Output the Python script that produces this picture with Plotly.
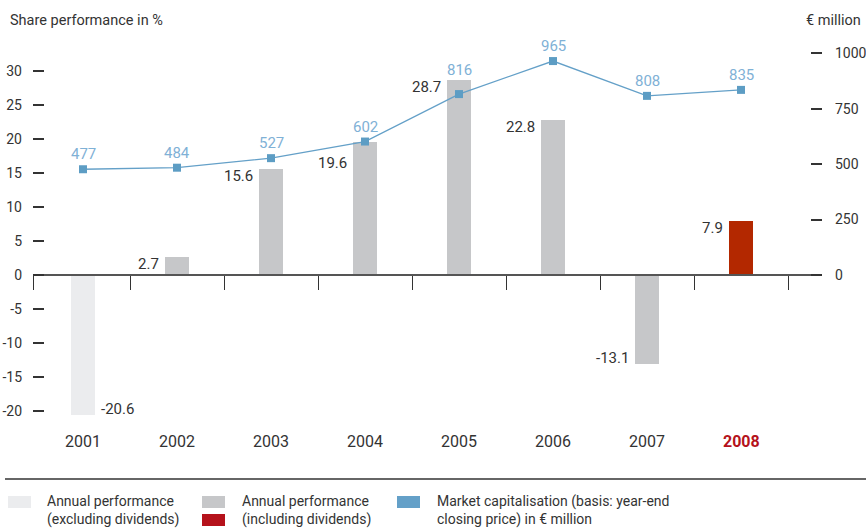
import plotly.graph_objects as go

# --- data -------------------------------------------------------------
years = ["2001", "2002", "2003", "2004", "2005", "2006", "2007", "2008"]
share_performance = [-20.6, 2.7, 15.6, 19.6, 28.7, 22.8, -13.1, 7.9]
market_cap = [477, 484, 527, 602, 816, 965, 808, 835]

left_ticks = [-20, -15, -10, -5, 0, 5, 10, 15, 20, 25, 30]
right_ticks = [0, 250, 500, 750, 1000]

# --- styling ----------------------------------------------------------
FONT = "Roboto"
TEXT = "#333333"
C_EXCL = "#ebecee"
C_INCL = "#c6c7c9"
C_HIGHLIGHT_BAR = "#b32800"
C_HIGHLIGHT = "#b5121b"
C_LINE = "#64a0c8"
C_MARKER = "#5d9dc4"
C_CAP_TEXT = "#7fb1d6"

bar_colors = [C_EXCL] + [C_INCL] * (len(years) - 2) + [C_HIGHLIGHT_BAR]

W, H = 866, 529
ML, MR, MT, MB = 33, 44, 40, 109
PW, PH = W - ML - MR, H - MT - MB

# left axis: pixels per percent point; right axis: pixels per € million
px_left = 6.81
px_right = 0.2217
zero_px = 275  # vertical pixel of the common zero line
y_top = (zero_px - MT) / px_left
y_bot = -(MT + PH - zero_px) / px_left
k = px_left / px_right

# horizontal scale: category width in pixels, first category starts 3 px in
cat_px = 94.0
first_edge = 3
x_range = [-0.5 - first_edge / cat_px, -0.5 + (PW - first_edge) / cat_px]


def px_x(p):
    return (p - ML) / PW


def px_y(p):
    return (MT + PH - p) / PH


x = list(range(len(years)))

fig = go.Figure()

fig.add_trace(go.Bar(
    x=x, y=share_performance, width=0.245,
    marker=dict(color=bar_colors, line=dict(width=0)),
    yaxis="y", hoverinfo="skip", showlegend=False,
))

fig.add_trace(go.Scatter(
    x=x, y=market_cap, yaxis="y2", mode="lines+markers",
    line=dict(color=C_LINE, width=1.3),
    marker=dict(symbol="square", size=8, color=C_MARKER),
    hoverinfo="skip", showlegend=False,
))

annotations = []

# share performance labels, beside each bar
for i, v in enumerate(share_performance):
    right_side = i == 0
    if v >= 0:
        shift = -21 if years[i] == "2004" else -7
    else:
        shift = 6
    annotations.append(dict(
        x=i + (0.17 if right_side else -0.17), y=v, xref="x", yref="y",
        text=f"{v:.1f}", showarrow=False,
        xanchor="left" if right_side else "right", yanchor="middle",
        yshift=shift, font=dict(family=FONT, size=15, color=TEXT),
    ))

# market capitalisation labels above the markers
for i, v in enumerate(market_cap):
    shift = 24 if years[i] == "2005" else 15
    annotations.append(dict(
        x=i, y=v, xref="x", yref="y2", text=str(v), showarrow=False,
        xanchor="center", yanchor="middle", yshift=shift,
        font=dict(family=FONT, size=15, color=C_CAP_TEXT),
    ))

# year labels
for i, yr in enumerate(years):
    last = i == len(years) - 1
    annotations.append(dict(
        x=i, y=px_y(441), xref="x", yref="paper",
        text=f"<b>{yr}</b>" if last else yr, showarrow=False,
        xanchor="center", yanchor="middle",
        font=dict(family=FONT, size=16, color=C_HIGHLIGHT if last else TEXT),
    ))

# axis titles
annotations.append(dict(
    x=px_x(8), y=px_y(20), xref="paper", yref="paper",
    text="Share performance in %", showarrow=False,
    xanchor="left", yanchor="middle",
    font=dict(family=FONT, size=14.5, color=TEXT),
))
annotations.append(dict(
    x=px_x(863), y=px_y(20), xref="paper", yref="paper",
    text="€ million", showarrow=False,
    xanchor="right", yanchor="middle",
    font=dict(family=FONT, size=14.5, color=TEXT),
))

# legend
legend_items = [
    (45, "Annual performance<br>(excluding dividends)"),
    (240, "Annual performance<br>(including dividends)"),
    (435, "Market capitalisation (basis: year-end<br>closing price) in € million"),
]
for lx, txt in legend_items:
    annotations.append(dict(
        x=px_x(lx), y=px_y(491), xref="paper", yref="paper",
        text=txt, showarrow=False, align="left",
        xanchor="left", yanchor="top",
        font=dict(family=FONT, size=14, color=TEXT),
    ))

shapes = [
    dict(type="line", xref="paper", yref="paper",
         x0=px_x(5), x1=px_x(866), y0=px_y(479), y1=px_y(479),
         line=dict(color=TEXT, width=1.5)),
]
for (x0, y0, col) in [(8, 496, C_EXCL), (202, 496, C_INCL),
                      (202, 514, C_HIGHLIGHT), (397, 496, C_LINE)]:
    shapes.append(dict(
        type="rect", xref="paper", yref="paper",
        x0=px_x(x0), x1=px_x(x0 + 23), y0=px_y(y0), y1=px_y(y0 + 12),
        fillcolor=col, line=dict(width=0),
    ))

zero_frac = (0 - y_bot) / (y_top - y_bot)

fig.update_layout(
    width=W, height=H,
    margin=dict(l=ML, r=MR, t=MT, b=MB, autoexpand=False),
    paper_bgcolor="white", plot_bgcolor="white",
    font=dict(family=FONT, size=14, color=TEXT),
    showlegend=False,
    annotations=annotations,
    shapes=shapes,
    xaxis=dict(
        range=x_range, anchor="free", position=zero_frac,
        tickmode="array",
        tickvals=[x_range[0]] + [i + 0.5 for i in range(len(years))],
        ticks="outside", ticklen=14, tickwidth=1.3, tickcolor=TEXT,
        showticklabels=False, showgrid=False, zeroline=False,
        showline=True, linecolor="#555555", linewidth=1.5,
        fixedrange=True,
    ),
    yaxis=dict(
        range=[y_bot, y_top], tickmode="array", tickvals=left_ticks,
        ticktext=[str(t) for t in left_ticks],
        ticks="inside", ticklen=11, tickwidth=1.5, tickcolor=TEXT,
        ticklabelstandoff=10,
        showgrid=False, zeroline=False, showline=False,
        tickfont=dict(family=FONT, size=14, color=TEXT),
        fixedrange=True,
    ),
    yaxis2=dict(
        range=[y_bot * k, y_top * k], overlaying="y", side="right",
        tickmode="array", tickvals=right_ticks,
        ticktext=[str(t) for t in right_ticks],
        ticks="inside", ticklen=11, tickwidth=1.5, tickcolor=TEXT,
        ticklabelstandoff=12,
        showgrid=False, zeroline=False, showline=False,
        tickfont=dict(family=FONT, size=14, color=TEXT),
        fixedrange=True,
    ),
    bargap=0,
)

fig.write_html("out.html", config={"displayModeBar": False})
